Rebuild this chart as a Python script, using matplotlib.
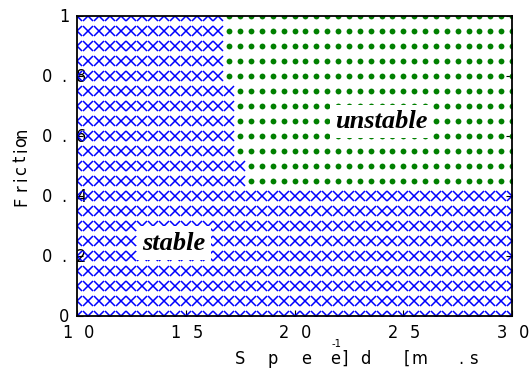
import numpy as np
import matplotlib
matplotlib.use("Agg")
import matplotlib.pyplot as plt
from matplotlib.transforms import offset_copy

# grid of the parameter sweep
speeds = [10.0, 10.5, 11.0, 11.5, 12.0, 12.5, 13.0, 13.5, 14.0, 14.5,
          15.0, 15.5, 16.0, 16.5, 17.0, 17.5, 18.0, 18.5, 19.0, 19.5,
          20.0, 20.5, 21.0, 21.5, 22.0, 22.5, 23.0, 23.5, 24.0, 24.5,
          25.0, 25.5, 26.0, 26.5, 27.0, 27.5, 28.0, 28.5, 29.0, 29.5, 30.0]
friction = [0.0, 0.05, 0.1, 0.15, 0.2, 0.25, 0.3, 0.35, 0.4, 0.45, 0.5,
            0.55, 0.6, 0.65, 0.7, 0.75, 0.8, 0.85, 0.9, 0.95, 1.0]
# speed from which each friction row is unstable (None = stable everywhere)
onset = [None, None, None, None, None, None, None, None, None, 18.0, 18.0,
         17.5, 17.5, 17.5, 17.5, 17.5, 17.0, 17.0, 17.0, 17.0, 17.0]

xtick_vals = [10, 15, 20, 25, 30]
xtick_labels = ["1 0", "1 5", "2 0", "2 5", "3 0"]
ytick_vals = [0, 0.2, 0.4, 0.6, 0.8, 1.0]
ytick_labels = ["0", "0 . 2", "0 . 4", "0 . 6", "0 . 8", "1"]

narrow = dict(family="DejaVu Sans", stretch="condensed", fontsize=13)

sx, sy, ux, uy = [], [], [], []
for f, on in zip(friction, onset):
    for s in speeds:
        if on is not None and s >= on:
            ux.append(s); uy.append(f)
        else:
            sx.append(s); sy.append(f)

fig = plt.figure(figsize=(5.32, 3.76), dpi=100)
ax = fig.add_axes([77/532, 1-316/376, 435/532, 300/376])
ax.plot(sx, sy, 'x', color='blue', ms=7, mew=1.1, zorder=2)
ax.plot(ux, uy, 'o', color='green', ms=4.2, mew=0, zorder=2)
ax.set_xlim(10, 30)
ax.set_ylim(0, 1)
ax.set_xticks(xtick_vals)
ax.set_yticks(ytick_vals)
ax.tick_params(direction='in', length=4, top=False, right=True,
               labelbottom=False, labelleft=False)
for sp in ax.spines.values():
    sp.set_linewidth(1.3)

# spaced-out tick labels, one character at a time
xt = ax.get_xaxis_transform()
for v, lab in zip(xtick_vals, xtick_labels):
    ch = lab.split()
    for i, c in enumerate(ch):
        tr = offset_copy(xt, fig=fig, x=(i - (len(ch)-1)/2)*22 + 1, y=-22, units='dots')
        ax.text(v, 0, c, transform=tr, ha='center', va='baseline',
                clip_on=False, **narrow)
yt = ax.get_yaxis_transform()
for v, lab in zip(ytick_vals, ytick_labels):
    ch = lab.split()
    for i, c in enumerate(ch):
        tr = offset_copy(yt, fig=fig, x=-13 + (i - (len(ch)-1)/2)*17, y=-6, units='dots')
        ax.text(0, v, c, transform=tr, ha='center', va='baseline',
                clip_on=False, zorder=1, **narrow)

# axis labels (glyphs scattered as in the original)
xl_chars = ["S", "p", "e", "e", "]", "d", "[", "m", ".", "s"]
xl_pos = [240, 273, 306, 335, 345, 365, 407, 419, 461, 473]
for c, px in zip(xl_chars, xl_pos):
    fig.text(px/532, 1-364/376, c, ha='center', va='baseline', **narrow)
fig.text(337/532, 1-344/376, "-1", ha='center', va='center',
         family="DejaVu Sans", stretch="condensed", fontsize=8)

yl_chars = ["F", "r", "i", "c", "t", "i", "o", "n"]
yl_pos = [201, 188, 179, 171, 159, 150, 142, 133]
for c, py in zip(yl_chars, yl_pos):
    fig.text(21/532, 1-py/376, c, ha='center', va='center', rotation=90, **narrow)

ax.text(23.98, 0.648, "unstable", ha='center', va='center', fontsize=19,
        family="Liberation Serif", style='italic', weight='bold', zorder=3,
        bbox=dict(facecolor='white', edgecolor='none', boxstyle='square,pad=0.2'))
ax.text(14.46, 0.243, "stable", ha='center', va='center', fontsize=19,
        family="Liberation Serif", style='italic', weight='bold', zorder=3,
        bbox=dict(facecolor='white', edgecolor='none', boxstyle='square,pad=0.2'))

fig.savefig("out.png", dpi=100)
